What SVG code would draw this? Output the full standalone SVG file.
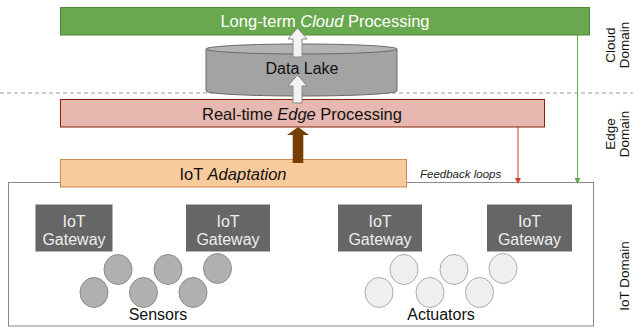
<svg xmlns="http://www.w3.org/2000/svg" width="633" height="331" viewBox="0 0 633 331">
  <defs>
    <style>
      text { font-family: "Liberation Sans", Arial, sans-serif; }
      .layer-label { font-size: 16.5px; text-anchor: middle; }
      .gw rect { fill: #666666; }
      .gw text { fill: #eeeeee; font-size: 16px; text-anchor: middle; }
      .sensor { fill: #b0b0b0; stroke: #8a8a8a; stroke-width: 1; }
      .actuator { fill: #efefef; stroke: #ababab; stroke-width: 1; }
      .domain { font-size: 13.5px; fill: #111; text-anchor: middle; }
      .group-label { font-size: 16px; fill: #111; text-anchor: middle; }
      .up-white { fill: #f3f3f3; stroke: #8a8a8a; stroke-width: 1; }
    </style>
    <marker id="head-red" markerWidth="6" markerHeight="6" refX="5" refY="3" orient="auto" markerUnits="userSpaceOnUse">
      <path d="M0,0 L6,3 L0,6 Z" fill="#cc4125"/>
    </marker>
    <marker id="head-green" markerWidth="6" markerHeight="6" refX="5" refY="3" orient="auto" markerUnits="userSpaceOnUse">
      <path d="M0,0 L6,3 L0,6 Z" fill="#6aa84f"/>
    </marker>
  </defs>

  <rect width="633" height="331" fill="#ffffff"/>

  <!-- boundary between cloud and edge domains -->
  <line x1="0" y1="93" x2="633" y2="93" stroke="#9a9a9a" stroke-width="1" stroke-dasharray="4,3"/>

  <!-- domain labels -->
  <g id="domain-labels">
    <text class="domain" transform="translate(615,45) rotate(-90)">Cloud</text>
    <text class="domain" transform="translate(629,45) rotate(-90)">Domain</text>
    <text class="domain" transform="translate(615,134) rotate(-90)">Edge</text>
    <text class="domain" transform="translate(629,134) rotate(-90)">Domain</text>
    <text class="domain" transform="translate(629,276) rotate(-90)">IoT Domain</text>
  </g>

  <!-- IoT domain frame -->
  <g id="iot-domain">
    <rect x="8.5" y="182.5" width="585" height="143.5" fill="#ffffff" stroke="#8a8a8a" stroke-width="1"/>
  </g>

  <!-- feedback connectors -->
  <g id="connectors">
    <line x1="518" y1="127" x2="518" y2="183" stroke="#cc4125" stroke-width="1" marker-end="url(#head-red)"/>
    <line x1="577.5" y1="35" x2="577.5" y2="183" stroke="#6aa84f" stroke-width="1" marker-end="url(#head-green)"/>
    <text x="420" y="178" font-size="11.5" font-style="italic" fill="#222">Feedback loops</text>
  </g>

  <g id="cloud-processing">
    <rect x="60.5" y="7.5" width="529" height="27.5" fill="#6aa84f" stroke="#4f8a37" stroke-width="1"/>
    <text class="layer-label" x="325" y="27" fill="#ffffff">Long-term <tspan font-style="italic">Cloud</tspan> Processing</text>
  </g>

  <g id="data-lake">
    <path d="M206,49 L206,91 A95.5,5 0 0 0 397,91 L397,49 Z" fill="#a3a3a3" stroke="#6a6a6a" stroke-width="1"/>
    <ellipse cx="301.5" cy="49" rx="95.5" ry="5" fill="#b3b3b3" stroke="#6a6a6a" stroke-width="1"/>
    <text x="302" y="74" font-size="16" text-anchor="middle" fill="#111">Data Lake</text>
  </g>

  <g id="edge-processing">
    <rect x="60.5" y="99.5" width="484" height="27.5" fill="#e6b8af" stroke="#85200c" stroke-width="1"/>
    <text class="layer-label" x="302" y="120" fill="#111">Real-time <tspan font-style="italic">Edge</tspan> Processing</text>
  </g>

  <g id="iot-adaptation">
    <rect x="60.5" y="159.5" width="346" height="27.5" fill="#f9cb9c" stroke="#c98d52" stroke-width="1"/>
    <text class="layer-label" x="233" y="180" fill="#111">IoT <tspan font-style="italic">Adaptation</tspan></text>
  </g>

  <!-- data flow arrows -->
  <g id="flow-arrows">
    <path class="up-white" d="M297.5,28 L307,39 L302,39 L302,57 L293,57 L293,39 L288,39 Z"/>
    <path class="up-white" d="M297.5,75 L307,86 L302,86 L302,103 L293,103 L293,86 L288,86 Z"/>
    <path d="M298,127 L309,135 L303.3,135 L303.3,163 L292.7,163 L292.7,135 L287,135 Z" fill="#783f04"/>
  </g>

  <g id="gateway-1" class="gw">
    <rect x="35.5" y="204.5" width="77" height="47"/>
    <text x="74" y="227">IoT</text>
    <text x="74" y="245">Gateway</text>
  </g>
  <g id="gateway-2" class="gw">
    <rect x="186" y="204.5" width="84" height="47"/>
    <text x="228" y="227">IoT</text>
    <text x="228" y="245">Gateway</text>
  </g>
  <g id="gateway-3" class="gw">
    <rect x="338" y="204.5" width="84" height="47"/>
    <text x="380" y="227">IoT</text>
    <text x="380" y="245">Gateway</text>
  </g>
  <g id="gateway-4" class="gw">
    <rect x="487" y="204.5" width="85" height="47"/>
    <text x="529.5" y="227">IoT</text>
    <text x="529.5" y="245">Gateway</text>
  </g>

  <g id="sensors">
    <ellipse class="sensor" cx="118" cy="269.5" rx="14" ry="15"/>
    <ellipse class="sensor" cx="168" cy="269.5" rx="14" ry="15"/>
    <ellipse class="sensor" cx="217.5" cy="268.5" rx="14" ry="15"/>
    <ellipse class="sensor" cx="94" cy="292.5" rx="14" ry="15"/>
    <ellipse class="sensor" cx="143.5" cy="292.5" rx="14" ry="15"/>
    <ellipse class="sensor" cx="193" cy="292.5" rx="14" ry="15"/>
    <text class="group-label" x="158" y="320">Sensors</text>
  </g>

  <g id="actuators">
    <ellipse class="actuator" cx="404" cy="269.5" rx="14" ry="15"/>
    <ellipse class="actuator" cx="454" cy="269.5" rx="14" ry="15"/>
    <ellipse class="actuator" cx="503" cy="268.5" rx="14" ry="15"/>
    <ellipse class="actuator" cx="379" cy="292.5" rx="14" ry="15"/>
    <ellipse class="actuator" cx="430" cy="292.5" rx="14" ry="15"/>
    <ellipse class="actuator" cx="479.5" cy="292.5" rx="14" ry="15"/>
    <text class="group-label" x="441" y="320">Actuators</text>
  </g>
</svg>
